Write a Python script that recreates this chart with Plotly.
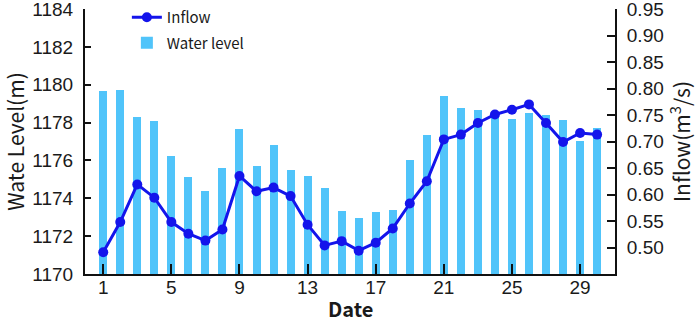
import plotly.graph_objects as go

days = list(range(1, 31))
water_level = [1179.65, 1179.73, 1178.29, 1178.06, 1176.26, 1175.12, 1174.41, 1175.62, 1177.66, 1175.71,
               1176.79, 1175.49, 1175.19, 1174.53, 1173.35, 1172.95, 1173.30, 1173.39, 1176.01, 1177.32,
               1179.43, 1178.77, 1178.68, 1178.40, 1178.20, 1178.48, 1178.40, 1178.13, 1177.04, 1177.71]
inflow = [0.491, 0.548, 0.619, 0.594, 0.548, 0.526, 0.513, 0.534, 0.635, 0.606,
          0.613, 0.597, 0.543, 0.504, 0.512, 0.494, 0.509, 0.536, 0.583, 0.625,
          0.704, 0.713, 0.735, 0.751, 0.760, 0.770, 0.735, 0.699, 0.716, 0.713]
x_ticks = [1, 5, 9, 13, 17, 21, 25, 29]
left_ticks = [1170, 1172, 1174, 1176, 1178, 1180, 1182, 1184]
right_ticks = [0.50, 0.55, 0.60, 0.65, 0.70, 0.75, 0.80, 0.85, 0.90, 0.95]

BAR_COLOR = "rgb(80,196,250)"
LINE_COLOR = "rgb(20,20,235)"
TICK_FONT = dict(family="Liberation Sans", size=19, color="#1a1a1a")
TITLE_FONT = dict(family="Noto Sans CJK SC", size=21, color="#1a1a1a")

fig = go.Figure()
fig.add_trace(go.Scatter(
    x=days, y=inflow, name="Inflow", yaxis="y2", mode="lines+markers",
    line=dict(color=LINE_COLOR, width=3), marker=dict(color=LINE_COLOR, size=10),
    legendgroup="a"))
fig.add_trace(go.Bar(
    x=days, y=water_level, name="Water level", marker=dict(color=BAR_COLOR, line=dict(width=0)),
    width=0.47, legendgroup="b"))

fig.update_layout(
    width=699, height=319,
    margin=dict(l=85, r=84, t=9, b=45, autoexpand=False),
    plot_bgcolor="white", paper_bgcolor="white",
    showlegend=True,
    legend=dict(x=0.079, y=1.03, xanchor="left", yanchor="top", bgcolor="rgba(0,0,0,0)",
                font=dict(family="Noto Sans CJK SC", size=15, color="#1a1a1a"),
                tracegroupgap=3, itemwidth=30),
    bargap=0,
    xaxis=dict(range=[-0.07, 31.05], tickvals=x_ticks, ticks="inside", ticklen=10, tickwidth=2,
               tickcolor="#111", showline=True, linecolor="#111", linewidth=2, showgrid=False,
               zeroline=False, tickfont=TICK_FONT, automargin=False, ticklabelstandoff=-5,
               ticklabeloverflow="allow"),
    yaxis=dict(range=[1170, 1184], tickvals=left_ticks, ticks="inside", ticklen=6, tickwidth=2,
               tickcolor="#111", showline=True, linecolor="#111", linewidth=2, showgrid=False,
               zeroline=False, tickfont=TICK_FONT, ticklabelstandoff=6, automargin=False,
               ticklabeloverflow="allow",
               title=dict(text="Wate Level(m)", font=TITLE_FONT, standoff=12)),
    yaxis2=dict(range=[0.45, 0.95], tickvals=right_ticks, tickformat=".2f", overlaying="y", side="right",
                ticks="inside", ticklen=8, tickwidth=2, tickcolor="#111", showline=True,
                linecolor="#111", linewidth=2, showgrid=False, zeroline=False, tickfont=TICK_FONT,
                ticklabelstandoff=6, automargin=False, ticklabeloverflow="allow",
                title=dict(text="Inflow(m<sup>3</sup>/s)", font=TITLE_FONT, standoff=2)),
    annotations=[dict(text="<b>Date</b>", x=0.5, xref="paper", y=-0.132, yref="paper",
                      xanchor="center", yanchor="middle", showarrow=False,
                      font=dict(family="Noto Sans CJK SC", size=20, color="#1a1a1a"))],
)

fig.write_html("out.html", config={"displayModeBar": False},
               post_script="document.body.style.margin='0';")
